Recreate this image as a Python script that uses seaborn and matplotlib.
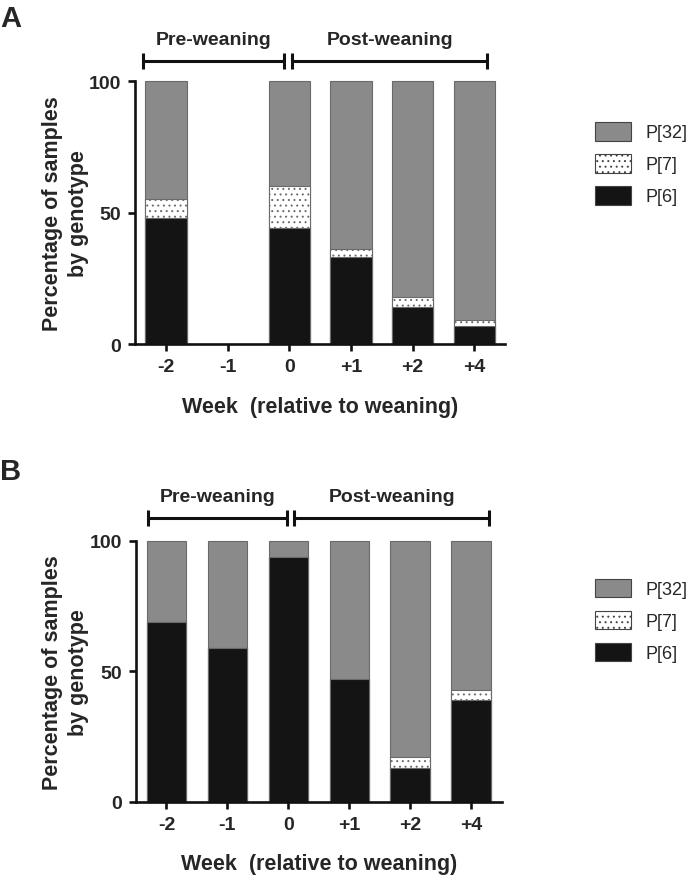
import numpy as np
import pandas as pd
import matplotlib
matplotlib.use("Agg")
import matplotlib.pyplot as plt
from matplotlib.patches import Patch
import seaborn as sns

weeks = ["-2", "-1", "0", "+1", "+2", "+4"]
a_p6 = [48, np.nan, 44, 33, 14, 7]
a_p7 = [7, np.nan, 16, 3, 4, 2]
a_p32 = [45, np.nan, 40, 64, 82, 91]
b_p6 = [69, 59, 94, 47, 13, 39]
b_p7 = [0, 0, 0, 0, 4, 4]
b_p32 = [31, 41, 6, 53, 83, 57]
genotypes = ["P[32]", "P[7]", "P[6]"]
groups = ["Pre-weaning", "Post-weaning"]

sns.set_style("ticks")
plt.rcParams["font.family"] = ["Liberation Sans", "DejaVu Sans"]
plt.rcParams["hatch.linewidth"] = 0.7
plt.rcParams["hatch.color"] = "#111111"

C32 = "#8a8a8a"
C6 = "#141414"
EDGE = "#6a6a6a"
HATCH = "..."

fig = plt.figure(figsize=(6.96, 8.78), dpi=100)
axA = fig.add_axes([0.194, 0.607, 0.5316, 0.2995])
axB = fig.add_axes([0.1954, 0.0858, 0.5254, 0.2969])


def draw(ax, p6, p7, p32, width, brackets, bracket_y, text_y, ylab_x):
    df = pd.DataFrame({"week": weeks, "p6": p6, "p7": p7, "p32": p32})
    df["c7"] = df["p6"] + df["p7"]
    df["c32"] = df["c7"] + df["p32"]
    sns.barplot(data=df, x="week", y="c32", order=weeks, color=C32, saturation=1,
                width=width, edgecolor=EDGE, linewidth=0.8, ax=ax)
    n0 = len(ax.patches)
    sns.barplot(data=df, x="week", y="c7", order=weeks, color="white", saturation=1,
                width=width, edgecolor=EDGE, linewidth=0.8, ax=ax)
    for p in ax.patches[n0:]:
        p.set_hatch(HATCH)
    sns.barplot(data=df, x="week", y="p6", order=weeks, color=C6, saturation=1,
                width=width, edgecolor=EDGE, linewidth=0.8, ax=ax)
    for p in ax.patches:
        p.set_clip_on(False)
    ax.set_xlim(-0.5, 5.5)
    ax.set_ylim(0, 100)
    ax.set_yticks([0, 50, 100])
    sns.despine(ax=ax)
    for s in ["left", "bottom"]:
        ax.spines[s].set_linewidth(1.9)
        ax.spines[s].set_color("#111111")
    ax.tick_params(axis="both", width=1.9, length=5, color="#111111",
                   labelsize=14, pad=5)
    for lab in ax.get_xticklabels() + ax.get_yticklabels():
        lab.set_fontweight("bold")
    ax.set_xlabel("Week  (relative to weaning)", fontsize=15.5, fontweight="bold", labelpad=15)
    ax.set_ylabel("Percentage of samples\nby genotype", fontsize=15.5, fontweight="bold",
                  linespacing=1.3)
    ax.yaxis.set_label_coords(ylab_x, 0.5)
    tr = ax.get_xaxis_transform()
    for (x0, x1), name in zip(brackets, groups):
        ax.plot([x0, x1], [bracket_y, bracket_y], transform=tr, color="#111111",
                lw=2.2, clip_on=False, solid_capstyle="butt")
        for xx in (x0, x1):
            ax.plot([xx, xx], [bracket_y - 0.03, bracket_y + 0.03], transform=tr,
                    color="#111111", lw=2.2, clip_on=False, solid_capstyle="butt")
        ax.text((x0 + x1) / 2, text_y, name, transform=tr, ha="center", va="center",
                fontsize=14, fontweight="bold")


draw(axA, a_p6, a_p7, a_p32, 0.67, [(-0.37, 1.91), (2.05, 5.21)], 1.076, 1.16, -0.125)
draw(axB, b_p6, b_p7, b_p32, 0.65, [(-0.30, 1.97), (2.10, 5.29)], 1.087, 1.17, -0.128)

handles = [Patch(facecolor=C32, edgecolor="#444444", linewidth=0.8),
           Patch(facecolor="white", edgecolor="#444444", hatch=HATCH, linewidth=0.8),
           Patch(facecolor=C6, edgecolor="#444444", linewidth=0.8)]
for y in (0.868, 0.348):
    fig.legend(handles, genotypes, loc="upper left", bbox_to_anchor=(0.845, y),
               frameon=False, fontsize=13, handlelength=2.0, handleheight=1.2,
               labelspacing=0.7, handletextpad=0.8, borderaxespad=0)

fig.text(0.0, 0.978, "A", fontsize=21, fontweight="bold", va="center", ha="left")
fig.text(0.0, 0.462, "B", fontsize=21, fontweight="bold", va="center", ha="left")

fig.savefig("out.png", dpi=100)
